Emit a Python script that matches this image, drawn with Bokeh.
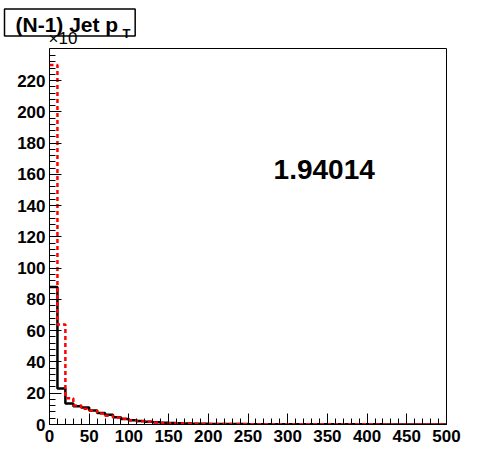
from bokeh.plotting import figure
from bokeh.models import FixedTicker, Label, Range1d, ColumnDataSource, Title
from bokeh.embed import file_html
from bokeh.resources import INLINE

# ---- data (counts in units of 10^3, bins of 10 GeV from 0 to 500) ----
bin_width = 10
n_bins = 50
black_vals = [88.0, 23.0, 13.4, 11.6, 10.9, 9.0, 7.4, 6.2, 4.6, 3.5,
              2.7, 2.2, 1.8, 1.4, 1.1, 0.9, 0.8, 0.7, 0.45, 0.4,
              0.36, 0.32, 0.3, 0.27, 0.24, 0.22, 0.2, 0.19, 0.17, 0.16,
              0.15, 0.14, 0.13, 0.12, 0.11, 0.11, 0.1, 0.1, 0.09, 0.09,
              0.08, 0.08, 0.07, 0.07, 0.07, 0.06, 0.06, 0.06, 0.05, 0.05]
red_vals = [230.0, 64.0, 16.8, 12.1, 10.0, 9.0, 7.1, 5.6, 4.5, 3.6,
            2.7, 2.1, 1.7, 1.3, 1.0, 0.85, 0.75, 0.65, 0.42, 0.38,
            0.34, 0.3, 0.28, 0.25, 0.23, 0.21, 0.19, 0.18, 0.16, 0.15,
            0.14, 0.13, 0.12, 0.11, 0.11, 0.1, 0.1, 0.09, 0.09, 0.08,
            0.08, 0.07, 0.07, 0.07, 0.06, 0.06, 0.06, 0.05, 0.05, 0.05]
x_ticks = [0, 50, 100, 150, 200, 250, 300, 350, 400, 450, 500]
y_ticks = [0, 20, 40, 60, 80, 100, 120, 140, 160, 180, 200, 220]
title_text = "(N-1) Jet p"
title_sub = "T"
ratio_text = "1.94014"
exp_text = "\u00d710"

edges = [i * bin_width for i in range(n_bins + 1)]
src_black = ColumnDataSource(dict(x=edges, y=black_vals + [black_vals[-1]]))
src_red = ColumnDataSource(dict(x=edges, y=red_vals + [red_vals[-1]]))

FONT = "Liberation Sans"

p = figure(width=496, height=472, output_backend="svg", toolbar_location=None,
           x_range=Range1d(0, 500), y_range=Range1d(0, 240.5),
           min_border_left=49, min_border_right=50, min_border_top=48, min_border_bottom=48)
p.grid.visible = False
p.outline_line_color = "black"
p.outline_line_width = 1
p.background_fill_color = "white"
p.border_fill_color = "white"

# steps
p.step("x", "y", source=src_black, mode="after", line_color="black", line_width=2.5)
p.step("x", "y", source=src_red, mode="after", line_color="red", line_width=2.5, line_dash="4 3")

# axes
minor_x = [v for v in range(0, 501, 10) if v % 50 != 0]
minor_y = [v for v in range(0, 241, 4) if v % 20 != 0]
p.xaxis.ticker = FixedTicker(ticks=x_ticks, minor_ticks=minor_x)
p.yaxis.ticker = FixedTicker(ticks=y_ticks, minor_ticks=minor_y)
for ax in (p.xaxis[0], p.yaxis[0]):
    ax.axis_line_color = "black"
    ax.major_tick_line_color = "black"
    ax.minor_tick_line_color = "black"
    ax.major_tick_out = 0
    ax.minor_tick_out = 0
    ax.major_label_text_font = FONT
    ax.major_label_text_font_style = "bold"
    ax.major_label_text_font_size = "17px"
    ax.major_label_text_color = "black"
p.xaxis.major_tick_in = 11
p.xaxis.minor_tick_in = 6
p.yaxis.major_tick_in = 12
p.yaxis.minor_tick_in = 6
p.xaxis.major_label_standoff = 5
p.yaxis.major_label_standoff = 4

# texts above the frame (side-panel titles, stacked from the frame upward)
t_exp = Title(text=exp_text, text_font=FONT, text_font_size="17px",
              text_font_style="normal", text_color="black",
              align="left", offset=-1, standoff=2, vertical_align="bottom")
t_sub = Title(text=title_sub, text_font=FONT, text_font_size="13px",
              text_font_style="bold", text_color="black",
              align="left", offset=73, standoff=-31, vertical_align="bottom")
t_main = Title(text=title_text, text_font=FONT, text_font_size="21px",
               text_font_style="bold", text_color="black",
               align="left", offset=-45, standoff=-21, vertical_align="bottom",
               background_fill_color=None, border_line_color="black",
               border_line_width=1.5,
               padding=dict(left=11, right=17, top=4, bottom=0))
p.add_layout(t_exp, "above")
p.add_layout(t_sub, "above")
p.add_layout(t_main, "above")

# ratio text
p.add_layout(Label(x=346, y=163, text=ratio_text, text_font=FONT,
                   text_font_size="28px", text_font_style="bold", text_color="black",
                   text_align="center", text_baseline="alphabetic"))

open("out.html", "w").write(file_html(p, INLINE))
